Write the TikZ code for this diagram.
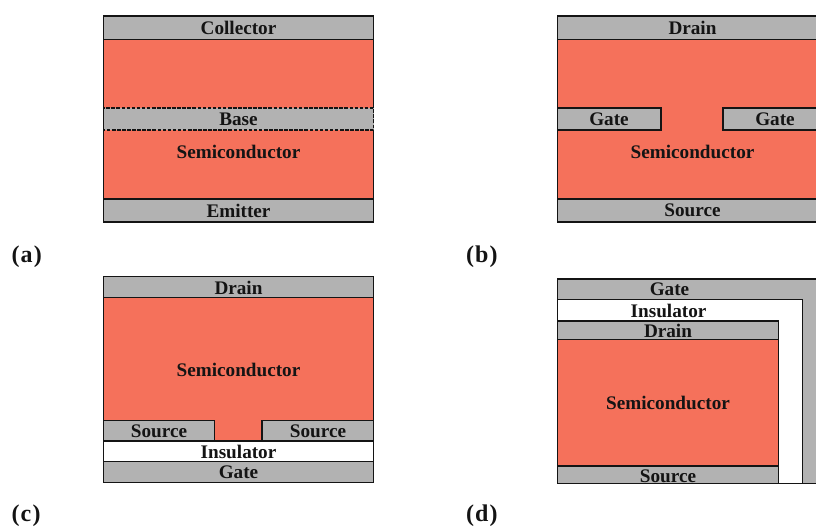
\documentclass[tikz,border=0pt]{standalone}
\usepackage{fontspec}
\setmainfont{Liberation Serif}
\newfontfamily\tagfont[LetterSpace=5,BoldFont={Liberation Serif Bold}]{Liberation Serif}
\definecolor{semi}{RGB}{245,113,91}
\definecolor{metal}{RGB}{178,178,178}
\definecolor{ink}{RGB}{20,20,20}
\tikzset{
  every node/.style={inner sep=0pt,outer sep=0pt,font=\fontsize{14.4pt}{16pt}\selectfont\bfseries,text=ink},
  part/.style={draw=ink,line width=1.4pt,line join=miter},
  metalpart/.style={part,fill=metal},
  semipart/.style={part,fill=semi},
  insulpart/.style={part,fill=white},
  tag/.style={anchor=base west,font=\tagfont\fontsize{18pt}{20pt}\selectfont\bfseries}
}
\begin{document}
\begin{tikzpicture}[x=0.75pt,y=-0.75pt]
\useasboundingbox (0,0) rectangle (816,526);
\clip (0,0) rectangle (816,526);
% (a)
\draw[semipart] (103.5,39.5) rectangle (373.5,199);
\draw[metalpart] (103.5,16) rectangle (373.5,39.5);
\draw[metalpart] (103.5,199) rectangle (373.5,222);
\fill[metal] (103.5,108) rectangle (373.5,130);
\draw[part,dash pattern=on 2.7pt off 1.1pt] (103.5,108) rectangle (373.5,130);
\node (ac) at (238.5,28) {Collector};
\node (ab) at (238.5,119.5) {Base};
\node (as) at (238.5,151.5) {Semiconductor};
\node (ae) at (238.5,210.5) {Emitter};
\node[tag] (la) at (11.5,262) {(a)};
% (b)
\draw[semipart] (557.5,39.5) rectangle (827.5,199);
\draw[metalpart] (557.5,16) rectangle (827.5,39.5);
\draw[metalpart] (557.5,199) rectangle (827.5,222);
\draw[metalpart] (557.5,108) rectangle (661,130);
\draw[metalpart] (723,108) rectangle (827.5,130);
\node (bd) at (692.5,28) {Drain};
\node (bg1) at (609,119.5) {Gate};
\node (bg2) at (775,119.5) {Gate};
\node (bs) at (692.5,151.5) {Semiconductor};
\node (bo) at (692.5,210.5) {Source};
\node[tag] (lb) at (466,262) {(b)};
% (c)
\draw[semipart] (103.5,297.5) rectangle (373.5,441);
\draw[metalpart] (103.5,276.5) rectangle (373.5,297.5);
\draw[metalpart] (103.5,420.5) rectangle (214.5,441);
\draw[metalpart] (262,420.5) rectangle (373.5,441);
\draw[insulpart] (103.5,441) rectangle (373.5,461.5);
\draw[metalpart] (103.5,461.5) rectangle (373.5,482.5);
\node (cd) at (238.5,287.5) {Drain};
\node (cs) at (238.5,369.5) {Semiconductor};
\node (co1) at (159,431.5) {Source};
\node (co2) at (318,431.5) {Source};
\node (ci) at (238.5,452) {Insulator};
\node (cg) at (238.5,472.5) {Gate};
\node[tag] (lc) at (11.5,521) {(c)};
% (d)
\draw[metalpart] (557.5,279) rectangle (827.5,483.5);
\draw[insulpart] (557.5,299.5) -- (802.5,299.5) -- (802.5,483.5) -- (557.5,483.5) -- cycle;
\draw[metalpart] (557.5,321) rectangle (778.5,339.5);
\draw[semipart] (557.5,339.5) rectangle (778.5,466);
\draw[metalpart] (557.5,466) rectangle (778.5,483.5);
\node (dg) at (669.5,289.5) {Gate};
\node (di) at (668.5,310.5) {Insulator};
\node (dd) at (668,331) {Drain};
\node (ds) at (668,403) {Semiconductor};
\node (do) at (668,476) {Source};
\node[tag] (ld) at (466,521) {(d)};
\end{tikzpicture}
\end{document}
